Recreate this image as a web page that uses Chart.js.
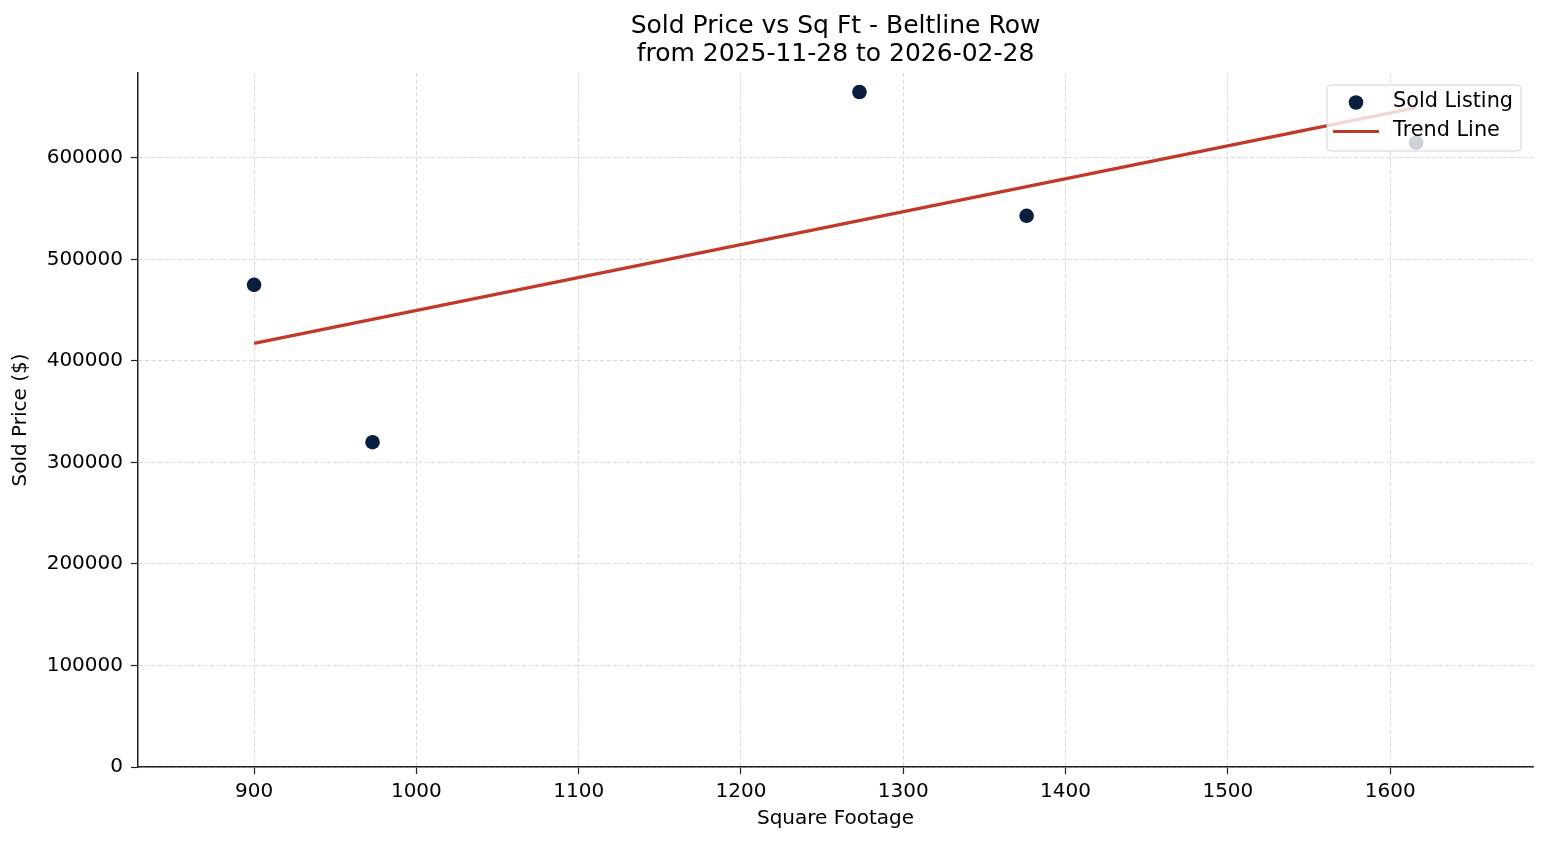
<!DOCTYPE html>
<html lang="en">
<head>
    <meta charset="UTF-8">
    <title>Sold Price vs Sq Ft - Beltline Row</title>
    <script src="https://cdn.jsdelivr.net/npm/chart.js"></script>
    <style>
        body { margin: 0; background: #fff; }
    </style>
</head>
<body>
    <canvas id="myChart" width="1547" height="845"></canvas>

    <script>
        // Data
        const sqFt = [900, 973, 1273, 1376, 1616];
        const soldPrice = [475000, 320000, 665000, 543000, 615000];
        const trendSqFt = [900, 1616];
        const trendPrice = [417400, 649600];
        const xTicks = [900, 1000, 1100, 1200, 1300, 1400, 1500, 1600];
        const yTicks = [0, 100000, 200000, 300000, 400000, 500000, 600000];
        const xLimits = [828.5, 1688];
        const yLimits = [0, 683700];

        const FONT = 'DejaVu Sans';
        const pointColor = '#0a1f3d';
        const trendColor = '#c0392b';

        const soldPoints = sqFt.map((x, i) => ({ x: x, y: soldPrice[i] }));
        const trendPoints = trendSqFt.map((x, i) => ({ x: x, y: trendPrice[i] }));

        // legend drawn inside the plot, upper right, like matplotlib
        const boxLegend = {
            id: 'boxLegend',
            afterDraw(chart) {
                const ctx = chart.ctx;
                const ds = chart.data.datasets;
                const x0 = 1327, y0 = 85, w = 194, h = 66;
                ctx.save();
                ctx.beginPath();
                ctx.roundRect(x0, y0, w, h, 4);
                ctx.fillStyle = 'rgba(255,255,255,0.8)';
                ctx.fill();
                ctx.strokeStyle = '#d4d4d4';
                ctx.lineWidth = 1;
                ctx.stroke();

                // scatter marker
                ctx.beginPath();
                ctx.arc(1356, 102.5, 7.3, 0, Math.PI * 2);
                ctx.fillStyle = ds[0].backgroundColor;
                ctx.fill();
                // line marker
                ctx.beginPath();
                ctx.moveTo(1333, 131.5);
                ctx.lineTo(1379, 131.5);
                ctx.strokeStyle = ds[1].borderColor;
                ctx.lineWidth = 3.2;
                ctx.stroke();

                ctx.fillStyle = '#000';
                ctx.font = '20.8px "' + FONT + '"';
                ctx.textBaseline = 'middle';
                ctx.textAlign = 'left';
                ctx.fillText(ds[0].label, 1393, 102);
                ctx.fillText(ds[1].label, 1393, 131);
                ctx.restore();
            }
        };

        const gridOpts = {
            color: '#cfcfcf',
            lineWidth: 0.8,
            tickColor: '#222',
            tickLength: 7,
            tickWidth: 1.2,
            tickBorderDash: []
        };
        const borderOpts = { display: true, color: '#222', width: 1.5, dash: [4, 2.5] };

        var config = {
            type: 'scatter',
            data: {
                datasets: [{
                    label: 'Sold Listing',
                    data: soldPoints,
                    backgroundColor: pointColor,
                    borderWidth: 0,
                    pointRadius: 7.3,
                    pointHoverRadius: 7.3
                },
                {
                    type: 'line',
                    label: 'Trend Line',
                    data: trendPoints,
                    borderColor: trendColor,
                    borderWidth: 3.2,
                    pointRadius: 0,
                    fill: false,
                    showLine: true
                }]
            },
            options: {
                responsive: false,
                animation: false,
                events: [],
                layout: { padding: { left: 0, right: 14, top: 0, bottom: 0 } },
                plugins: {
                    legend: { display: false },
                    tooltip: { enabled: false },
                    title: {
                        display: true,
                        fullSize: false,
                        text: ['Sold Price vs Sq Ft - Beltline Row', 'from 2025-11-28 to 2026-02-28'],
                        color: '#000',
                        font: { family: FONT, size: 25, weight: 'normal', lineHeight: 28 / 25 },
                        padding: { top: 12, bottom: 5 }
                    }
                },
                scales: {
                    x: {
                        type: 'linear',
                        min: xLimits[0],
                        max: xLimits[1],
                        afterBuildTicks: s => { s.ticks = xTicks.map(v => ({ value: v })); },
                        afterFit: s => { s.height = 78; },
                        ticks: {
                            color: '#000',
                            padding: 6,
                            maxRotation: 0,
                            autoSkip: false,
                            font: { family: FONT, size: 20 },
                            callback: v => String(v)
                        },
                        grid: gridOpts,
                        border: borderOpts,
                        title: {
                            display: true,
                            text: 'Square Footage',
                            color: '#000',
                            font: { family: FONT, size: 20 },
                            padding: { top: 0, bottom: 14 }
                        }
                    },
                    y: {
                        type: 'linear',
                        min: yLimits[0],
                        max: yLimits[1],
                        afterBuildTicks: s => { s.ticks = yTicks.map(v => ({ value: v })); },
                        afterFit: s => { s.width = 138; },
                        ticks: {
                            color: '#000',
                            padding: 8,
                            autoSkip: false,
                            font: { family: FONT, size: 20 },
                            callback: v => String(v)
                        },
                        grid: gridOpts,
                        border: borderOpts,
                        title: {
                            display: true,
                            text: 'Sold Price ($)',
                            color: '#000',
                            font: { family: FONT, size: 20 },
                            padding: { top: 9, bottom: 0 }
                        }
                    }
                }
            },
            plugins: [boxLegend]
        };

        var ctx = document.getElementById('myChart').getContext('2d');
        var myChart = new Chart(ctx, config);
    </script>
</body>
</html>
